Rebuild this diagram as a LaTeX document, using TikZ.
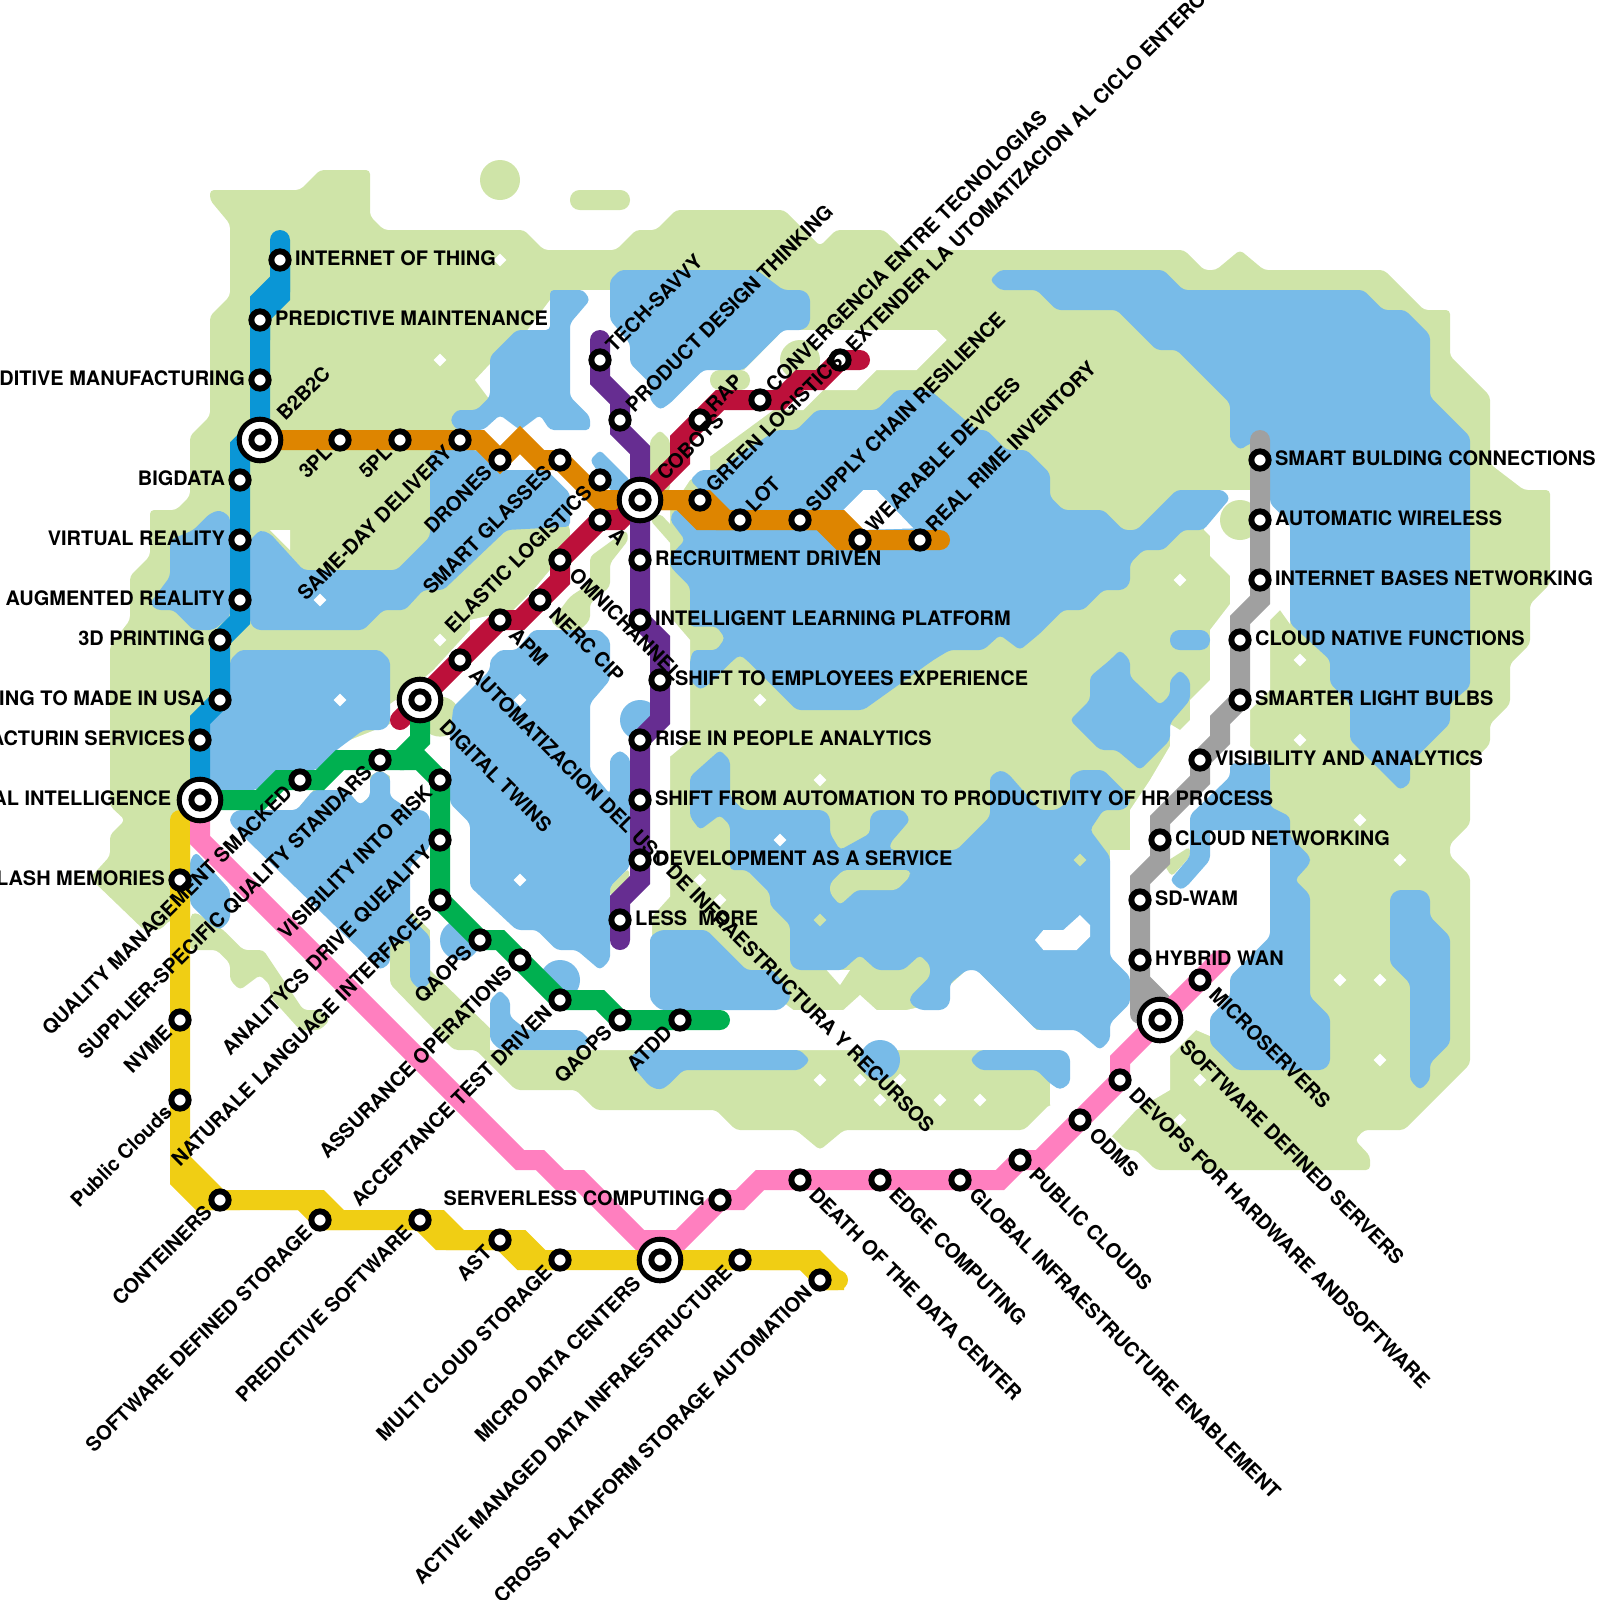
\documentclass[tikz,border=0pt]{standalone}
\usepackage{fontspec}
\setmainfont{TeX Gyre Heros}
\usetikzlibrary{positioning, backgrounds, shapes.geometric}

\definecolor{landgreen}{HTML}{CFE4A8}
\definecolor{lakeblue}{HTML}{78BBE8}
\definecolor{lineblue}{HTML}{0A96D6}
\definecolor{lineorange}{HTML}{DE8500}
\definecolor{linered}{HTML}{BC103A}
\definecolor{linepurple}{HTML}{662D91}
\definecolor{linegreen}{HTML}{00B050}
\definecolor{lineyellow}{HTML}{F0CE14}
\definecolor{linepink}{HTML}{FF7FBF}
\definecolor{linegrey}{HTML}{A0A0A0}

\begin{document}
\begin{tikzpicture}[
    x=.5cm, y=-.5cm,
    stop/.style={circle,draw=black,fill=white,line width=.148cm,minimum size=.432cm,inner sep=0pt},
    hub/.style={circle,draw=black,fill=white,line width=.125cm,minimum size=1.04cm,inner sep=0pt},
    lab/.style={font=\bfseries\fontsize{14.2}{16}\selectfont,inner sep=0pt,text height=10.2pt,text depth=0pt},
    rlab/.style={lab,yshift=.05cm},
    llab/.style={lab,yshift=.05cm},
    urlab/.style={lab,shift={(.225cm,.295cm)},rotate=45,anchor=west},
    dllab/.style={lab,shift={(-.29cm,-.22cm)},rotate=45,anchor=east},
    drlab/.style={lab,shift={(.32cm,-.27cm)},rotate=-45,anchor=west},
    urhub/.style={lab,shift={(.5cm,.58cm)},rotate=45,anchor=west},
    dlhub/.style={lab,shift={(-.57cm,-.5cm)},rotate=45,anchor=east},
    drhub/.style={lab,shift={(.58cm,-.58cm)},rotate=-45,anchor=west},
    land/.style={fill=landgreen,rounded corners=.1cm},
    lake/.style={fill=lakeblue,rounded corners=.1cm},
    gap/.style={fill=white},
    spot/.style={diamond,fill=white,minimum size=.32cm,inner sep=0pt},
    metro/.style={line width=.5cm,line cap=round,line join=miter,miter limit=4}
]
\useasboundingbox (0,0) rectangle (80,80);

% Blue line stops
\node[stop] (iot) at (14,13) {};
\node[stop] (pdm) at (13,16) {};
\node[stop] (addm) at (13,19) {};
\node[hub] (btb) at (13,22) {};
\node[stop] (btbc) at (13,22) {};
\node[stop] (bigd) at (12,24) {};
\node[stop] (vr) at (12,27) {};
\node[stop] (ar) at (12,30) {};
\node[stop] (tdp) at (11,32) {};
\node[stop] (usa) at (11,35) {};
\node[stop] (mfg) at (10,37) {};
\node[hub] (ai) at (10,40) {};
\node[stop] (aic) at (10,40) {};

% Yellow line stops
\node[stop] (flash) at (9,44) {};
\node[stop] (nvme) at (9,51) {};
\node[stop] (pubc) at (9,55) {};
\node[stop] (cont) at (11,60) {};
\node[stop] (sds) at (16,61) {};
\node[stop] (preds) at (21,61) {};
\node[stop] (ast) at (25,62) {};
\node[stop] (mcs) at (28,63) {};
\node[hub] (mdc) at (33,63) {};
\node[stop] (mdcc) at (33,63) {};
\node[stop] (amdi) at (37,63) {};
\node[stop] (cpsa) at (41,64) {};

% Pink line stops
\node[stop] (srvl) at (36,60) {};
\node[stop] (death) at (40,59) {};
\node[stop] (edge) at (44,59) {};
\node[stop] (ginf) at (48,59) {};
\node[stop] (pcl) at (51,58) {};
\node[stop] (odms) at (54,56) {};
\node[stop] (devh) at (56,54) {};
\node[hub] (sdsv) at (58,51) {};
\node[stop] (sdsvc) at (58,51) {};
\node[stop] (micro) at (60,49) {};

% Orange line stops
\node[stop] (tpl) at (17,22) {};
\node[stop] (fpl) at (20,22) {};
\node[stop] (same) at (23,22) {};
\node[stop] (dron) at (25,23) {};
\node[stop] (sgl) at (28,23) {};
\node[stop] (elog) at (30,24) {};
\node[hub] (cob) at (32,25) {};
\node[stop] (cobc) at (32,25) {};
\node[stop] (glog) at (35,25) {};
\node[stop] (lot) at (37,26) {};
\node[stop] (scr) at (40,26) {};
\node[stop] (wear) at (43,27) {};
\node[stop] (rri) at (46,27) {};

% Red line stops
\node[hub] (dt) at (21,35) {};
\node[stop] (dtc) at (21,35) {};
\node[stop] (auto) at (23,33) {};
\node[stop] (apm) at (25,31) {};
\node[stop] (nerc) at (27,30) {};
\node[stop] (omni) at (28,28) {};
\node[stop] (aa) at (30,26) {};
\node[stop] (rap) at (35,21) {};
\node[stop] (conv) at (38,20) {};
\node[stop] (ext) at (42,18) {};

% Purple line stops
\node[stop] (tech) at (30,18) {};
\node[stop] (pdt) at (31,21) {};
\node[stop] (recr) at (32,28) {};
\node[stop] (ilp) at (32,31) {};
\node[stop] (emp) at (33,34) {};
\node[stop] (rise) at (32,37) {};
\node[stop] (shft) at (32,40) {};
\node[stop] (daas) at (32,43) {};
\node[stop] (less) at (31,46) {};

% Green line stops
\node[stop] (qms) at (15,39) {};
\node[stop] (sqs) at (19,38) {};
\node[stop] (vir) at (22,39) {};
\node[stop] (adq) at (22,42) {};
\node[stop] (nli) at (22,45) {};
\node[stop] (qaa) at (24,47) {};
\node[stop] (aop) at (26,48) {};
\node[stop] (atd) at (28,50) {};
\node[stop] (qab) at (31,51) {};
\node[stop] (atdd) at (34,51) {};

% Grey line stops
\node[stop] (sbc) at (63,23) {};
\node[stop] (awl) at (63,26) {};
\node[stop] (ibn) at (63,29) {};
\node[stop] (cnf) at (62,32) {};
\node[stop] (slb) at (62,35) {};
\node[stop] (van) at (60,38) {};
\node[stop] (cnet) at (58,42) {};
\node[stop] (sdw) at (57,45) {};
\node[stop] (hyb) at (57,48) {};

% Labels, right of the stop
\node[rlab, right=.08cm of iot] (iotL) {INTERNET OF THING};
\node[rlab, right=.08cm of pdm] (pdmL) {PREDICTIVE MAINTENANCE};
\node[rlab, right=.08cm of recr] (recrL) {RECRUITMENT DRIVEN};
\node[rlab, right=.08cm of ilp] (ilpL) {INTELLIGENT LEARNING PLATFORM};
\node[rlab, right=.08cm of emp] (empL) {SHIFT TO EMPLOYEES EXPERIENCE};
\node[rlab, right=.08cm of rise] (riseL) {RISE IN PEOPLE ANALYTICS};
\node[rlab, right=.08cm of shft] (shftL) {SHIFT FROM AUTOMATION TO PRODUCTIVITY OF HR PROCESS};
\node[rlab, right=.08cm of daas] (daasL) {DEVELOPMENT AS A SERVICE};
\node[rlab, right=.08cm of less] (lessL) {LESS\ \ MORE};
\node[rlab, right=.08cm of sbc] (sbcL) {SMART BULDING CONNECTIONS};
\node[rlab, right=.08cm of awl] (awlL) {AUTOMATIC WIRELESS};
\node[rlab, right=.08cm of ibn] (ibnL) {INTERNET BASES NETWORKING};
\node[rlab, right=.08cm of cnf] (cnfL) {CLOUD NATIVE FUNCTIONS};
\node[rlab, right=.08cm of slb] (slbL) {SMARTER LIGHT BULBS};
\node[rlab, right=.08cm of van] (vanL) {VISIBILITY AND ANALYTICS};
\node[rlab, right=.08cm of cnet] (cnetL) {CLOUD NETWORKING};
\node[rlab, right=.08cm of sdw] (sdwL) {SD-WAM};
\node[rlab, right=.08cm of hyb] (hybL) {HYBRID WAN};

% Labels, left of the stop
\node[llab, left=.08cm of addm] (addmL) {DITIVE MANUFACTURING};
\node[llab, left=.08cm of bigd] (bigdL) {BIGDATA};
\node[llab, left=.08cm of vr] (vrL) {VIRTUAL REALITY};
\node[llab, left=.08cm of ar] (arL) {AUGMENTED REALITY};
\node[llab, left=.08cm of tdp] (tdpL) {3D PRINTING};
\node[llab, left=.08cm of usa] (usaL) {ING TO MADE IN USA};
\node[llab, left=.08cm of mfg] (mfgL) {ACTURIN SERVICES};
\node[llab, left=.13cm of ai] (aiL) {AL INTELLIGENCE};
\node[llab, left=.08cm of flash] (flashL) {LASH MEMORIES};
\node[llab, left=.08cm of srvl] (srvlL) {SERVERLESS COMPUTING};

% Labels going up to the right
\node[urhub] (btbL) at (btb) {B2B2C};
\node[urhub] (cobL) at (cob) {COBOTS};
\node[urlab] (techL) at (tech) {TECH-SAVVY};
\node[urlab] (pdtL) at (pdt) {PRODUCT DESIGN THINKING};
\node[urlab] (rapL) at (rap) {RAP};
\node[urlab] (convL) at (conv) {CONVERGENCIA ENTRE TECNOLOGIAS};
\node[urlab] (extL) at (ext) {EXTENDER LA UTOMATIZACION AL CICLO ENTERO};
\node[urlab] (glogL) at (glog) {GREEN LOGISTICS};
\node[urlab] (lotL) at (lot) {LOT};
\node[urlab] (scrL) at (scr) {SUPPLY CHAIN RESILIENCE};
\node[urlab] (wearL) at (wear) {WEARABLE DEVICES};
\node[urlab] (rriL) at (rri) {REAL RIME INVENTORY};

% Labels ending at the stop from below left
\node[dllab] (tplL) at (tpl) {3PL};
\node[dllab] (fplL) at (fpl) {5PL};
\node[dllab] (sameL) at (same) {SAME-DAY DELIVERY};
\node[dllab] (dronL) at (dron) {DRONES};
\node[dllab] (sglL) at (sgl) {SMART GLASSES};
\node[dllab] (elogL) at (elog) {ELASTIC LOGISTICS};
\node[dllab] (qmsL) at (qms) {QUALITY MANAGEMENT SMACKED};
\node[dllab] (sqsL) at (sqs) {SUPPLIER-SPECIFIC QUALITY STANDARS};
\node[dllab] (virL) at (vir) {VISIBILITY INTO RISK};
\node[dllab] (adqL) at (adq) {ANALITYCS DRIVE QUEALITY};
\node[dllab] (nliL) at (nli) {NATURALE LANGUAGE INTERFACES};
\node[dllab] (qaaL) at (qaa) {QAOPS};
\node[dllab] (aopL) at (aop) {ASSURANCE OPERATIONS};
\node[dllab] (atdL) at (atd) {ACCEPTANCE TEST DRIVEN};
\node[dllab] (qabL) at (qab) {QAOPS};
\node[dllab] (atddL) at (atdd) {ATDD};
\node[dllab] (nvmeL) at (nvme) {NVME};
\node[dllab] (pubcL) at (pubc) {Public Clouds};
\node[dllab] (contL) at (cont) {CONTEINERS};
\node[dllab] (sdsL) at (sds) {SOFTWARE DEFINED STORAGE};
\node[dllab] (predsL) at (preds) {PREDICTIVE SOFTWARE};
\node[dllab] (astL) at (ast) {AST};
\node[dllab] (mcsL) at (mcs) {MULTI CLOUD STORAGE};
\node[dlhub] (mdcL) at (mdc) {MICRO DATA CENTERS};
\node[dllab] (amdiL) at (amdi) {ACTIVE MANAGED DATA INFRAESTRUCTURE};
\node[dllab] (cpsaL) at (cpsa) {CROSS PLATAFORM STORAGE AUTOMATION};

% Labels going down to the right
\node[drlab] (aaL) at (aa) {A};
\node[drlab] (omniL) at (omni) {OMNICHANNEL};
\node[drlab] (nercL) at (nerc) {NERC CIP};
\node[drlab] (apmL) at (apm) {APM};
\node[drlab] (autoL) at (auto) {AUTOMATIZACION DEL USO DE INFRAESTRUCTURA Y RECURSOS};
\node[drhub] (dtL) at (dt) {DIGITAL TWINS};
\node[drlab] (microL) at (micro) {MICROSERVERS};
\node[drhub] (sdsvL) at (sdsv) {SOFTWARE DEFINED SERVERS};
\node[drlab] (devhL) at (devh) {DEVOPS FOR HARDWARE ANDSOFTWARE};
\node[drlab] (odmsL) at (odms) {ODMS};
\node[drlab] (pclL) at (pcl) {PUBLIC CLOUDS};
\node[drlab] (ginfL) at (ginf) {GLOBAL INFRAESTRUCTURE ENABLEMENT};
\node[drlab] (edgeL) at (edge) {EDGE COMPUTING};
\node[drlab] (deathL) at (death) {DEATH OF THE DATA CENTER};

\begin{scope}[on background layer]

% Land
\fill[land] (10.5,9.5) -- (15,9.5) -- (16,8.5) -- (18.5,8.5) -- (18.5,10.8) -- (19.2,11.5) -- (26.2,11.5) -- (27.2,12.5) -- (30.8,12.5) -- (31.8,11.5) -- (32.8,11.5) -- (33.8,10.5) -- (39.2,10.5) -- (41,12.3) -- (41.8,11.5) -- (44.2,11.5) -- (45.2,12.5) -- (59.2,12.5) -- (60.2,13.5) -- (60.8,13.5) -- (62,12.5) -- (63.2,13.5) -- (69.2,13.5) -- (71.2,15.5) -- (72.5,15.5) -- (72.5,17.8) -- (74.5,19.8) -- (74.5,23.2) -- (76.2,24.5) -- (77.5,24.5) -- (77.5,29.2) -- (76.5,30.2) -- (76.5,32.2) -- (75.5,33.2) -- (75.5,35.2) -- (74.5,36.2) -- (74.5,37.2) -- (73.5,38.2) -- (73.5,41.2) -- (72.5,42.2) -- (72.5,42.8) -- (73.5,43.8) -- (73.5,53.2) -- (70.2,56.5) -- (68.2,56.5) -- (67.75,57) -- (68.5,57.8) -- (68.5,58.5) -- (57.8,58.5) -- (56.8,57.5) -- (56.3,57.5) -- (55.6,56.8) -- (52.5,55.2) -- (51.2,56.5) -- (42.2,56.5) -- (41,57.5) -- (39.8,56.5) -- (36.8,56.5) -- (35.8,55.5) -- (29.8,55.5) -- (28.8,54.5) -- (25.8,54.5) -- (23.8,52.5) -- (22.7,52.5) -- (19.5,49.2) -- (19.5,47.2) -- (11.5,40.6) -- (10.5,40.8) -- (9.5,41) -- (9.5,46) -- (8.5,46) -- (8,46.5) -- (7.2,46.5) -- (4.5,43.9) -- (5.5,42.8) -- (5.5,41.75) -- (6.25,41) -- (5.5,40.3) -- (5.5,32.3) -- (6.5,31) -- (6.5,28.8) -- (7.5,27.8) -- (7.5,25.5) -- (8.8,25.5) -- (9.5,24.8) -- (9.5,21.8) -- (10.5,20.8) -- (10.5,15.8) -- (11.5,14.8) -- (11.5,11.2) -- (10.5,10) -- cycle;

% White channels through the land
\fill[gap] (60.7,24.5) -- (63.5,24.5) -- (64.5,25) -- (64.5,31.2) -- (64,30.5) -- (63.5,31) -- (63.5,34.5) -- (62.5,35.5) -- (62.5,37.3) -- (63.5,38.2) -- (63.5,49.7) -- (60.5,51.8) -- (59.8,51.5) -- (58.5,52.8) -- (58.5,54.5) -- (56.8,55.5) -- (55.6,56.8) -- (53.5,58) -- (52.5,55.2) -- (52.5,52.5) -- (52,51.5) -- (55.5,49) -- (55.5,42.5) -- (56.5,42.5) -- (56.5,40.5) -- (57.5,39) -- (58.5,37.3) -- (58.5,36.2) -- (59,36.5) -- (59.5,36) -- (59.5,35) -- (60.5,34) -- (60.5,31.5) -- (61.5,30.2) -- (61.5,28.8) -- (60.5,27.8) -- (60.5,26.8) -- (60.2,26.5) -- cycle;
\fill[gap] (24.5,52.5) -- (52.5,52.5) -- (53,51.5) -- (51.83,51.5) -- (48.83,48.5) -- (48.33,48.5) -- (47.5,49.25) -- (46.67,50.2) -- (45.33,50.5) -- (43.83,50.5) -- (43,49.75) -- (42.17,50.5) -- (39.67,50.5) -- (39,50) -- (32.6,49.7) -- (32.6,51) -- (24.5,51.4) -- cycle;
\fill[gap] (28,14.5) -- (30.5,14.5) -- (33,18) -- (37.2,18.5) -- (39.17,16.5) -- (46.83,16.5) -- (47.33,17) -- (45.83,18.5) -- (43.83,18.5) -- (42.83,19.5) -- (41.17,19.5) -- (40.17,20.5) -- (38.67,20.5) -- (35.5,22.83) -- (35.5,23.5) -- (34.5,24) -- (33.5,25.5) -- (33.5,30.83) -- (34.5,32) -- (34.5,37) -- (33.5,37.83) -- (33.5,44.83) -- (32.6,45.83) -- (32.6,51.5) -- (24.5,51.4) -- (21.5,48.5) -- (21.5,46.5) -- (20.5,45.5) -- (20.5,41) -- (19.5,39.8) -- (19.5,38.8) -- (19,38.5) -- (18.5,38.8) -- (18.5,39.8) -- (18,40.25) -- (17.33,39.5) -- (15.67,39.5) -- (14.83,40.5) -- (11.5,40.8) -- (10.5,41) -- (10.5,40) -- (15,38) -- (19.5,36.2) -- (19.5,35.2) -- (20.5,34.5) -- (21.67,33.5) -- (23.5,31.5) -- (23.5,31) -- (25.67,30.5) -- (26.67,29.5) -- (27.5,28.5) -- (28.5,27.33) -- (28.5,26.5) -- (28,25) -- (27.3,23.8) -- (25,23.8) -- (24.3,22.5) -- (24,21.5) -- (24.5,20) -- (23.75,19) -- (24.5,18.2) -- (26,17) -- (27.5,15) -- cycle;
\fill[gap] (13.5,26.5) -- (14.5,26.5) -- (14.5,27.5) -- cycle;
\fill[gap] (41.33,48.5) -- (42.5,48.5) -- (42,49.25) -- cycle;
\fill[gap] (37.33,43.5) -- (38.5,43.5) -- (38.5,44.67) -- cycle;

% Small pieces of land
\fill[land] (9.5,47.5) -- (10.83,47.5) -- (11.5,48.17) -- (11.5,49) -- (12,49.5) -- (13,48.75) -- (13.5,49.25) -- (13.5,49.83) -- (15,51.5) -- (16,51.5) -- (16.5,51) -- (16,50.5) -- (15.17,50.5) -- (13.17,47.5) -- (12.17,47.5) -- (11.17,46.5) -- (9.75,45.6) -- (9.5,45.8) -- cycle;
\fill[land] (28,30.5) -- (27.5,31) -- (28,31.5) -- (29,31.5) -- (29.5,31) -- (29.5,30.17) -- (30.5,29.33) -- (30.5,28.17) -- (31.42,27) -- (31.33,26.5) -- (29.5,27.83) -- (29.5,29.17) -- (28.5,29.83) -- cycle;
\fill[land] (32.5,22) -- (33,21.5) -- (33.5,22) -- (33.5,24.5) -- (32.5,25.5) -- cycle;
\fill[land] (33,25.67) -- (34.25,27) -- (33.75,27.42) -- (32.5,26) -- cycle;
\fill[land] (58.17,43.17) -- (58.58,43.83) -- (59.5,42.83) -- (59.5,42.33) -- cycle;
\fill[land] (30.5,44.33) -- (31.42,43.42) -- (31.5,43.83) -- (30.5,44.83) -- cycle;
\fill[land,rounded corners=.24cm] (28.5,9.5) rectangle (31.5,10.5);
\fill[land,rounded corners=.24cm] (35.5,18.5) rectangle (37.5,19.5);
\fill[landgreen] (25,9) circle[radius=.5cm];
\fill[landgreen] (40,18) circle[radius=.5cm];
\fill[landgreen] (62,26) circle[radius=.5cm];
\fill[landgreen] (22,35.83) circle[radius=.5cm];

% Lakes
\fill[lake] (22.5,21) -- (22.83,20.5) -- (23.83,20.5) -- (24.5,19.83) -- (24.5,17.83) -- (25.83,16.5) -- (27.5,16.5) -- (27.5,14.5) -- (29.17,14.5) -- (29.5,15) -- (28.5,16.17) -- (28.5,19.83) -- (29.5,20.83) -- (29.5,21.5) -- (27.5,21.5) -- (27,20.75) -- (26,21.5) -- (25,20.75) -- (24.17,21.5) -- (22.83,21.5) -- cycle;
\fill[lake] (12.5,27) -- (13,26.5) -- (13.5,26.67) -- (15.17,28.5) -- (19.83,28.5) -- (21.5,26.83) -- (21.5,22.5) -- (23.83,22.5) -- (24.83,23.5) -- (27.33,23.5) -- (28.5,24.67) -- (28.5,26.33) -- (25.33,26.5) -- (22.17,29.5) -- (21.17,29.5) -- (20.25,30.5) -- (19.17,30.5) -- (18.17,31.5) -- (12.83,31.5) -- (12.5,31.17) -- cycle;
\fill[lake] (10.5,25.67) -- (11,25.5) -- (11.5,25.83) -- (11.5,30.83) -- (10.67,31.5) -- (9.67,31.5) -- (8.67,30.5) -- (7.83,30.5) -- (7.5,30.17) -- (8.5,28.83) -- (8.5,27) -- (9.67,26.5) -- cycle;
\fill[lake] (11.5,33) -- (12,32.5) -- (19,32.5) -- (19.5,33) -- (19.5,36.17) -- (19.17,36.5) -- (18.17,36.5) -- (16.83,37.5) -- (15.83,38.5) -- (13.83,38.5) -- (12.83,39.5) -- (10.5,39.5) -- (10.5,35.83) -- (11.5,35) -- cycle;
\fill[lake] (11.5,40.83) -- (11.83,40.5) -- (14.83,40.5) -- (15.67,39.5) -- (17.33,39.5) -- (18,40.25) -- (18.5,39.83) -- (18.5,38.83) -- (19,38.5) -- (19.5,38.83) -- (19.5,39.83) -- (20.5,40.5) -- (21.17,40.5) -- (21.5,40.83) -- (21.5,42.33) -- (20.5,43.33) -- (20.5,45.83) -- (21.5,46.83) -- (21.5,49.17) -- (21,49.5) -- (20.5,49) -- (20.5,47) -- (19.5,47.17) -- (19.5,48.17) -- (19,48.5) -- (18.17,47.67) -- (11.5,41.17) -- cycle;
\fill[lake] (9.5,43) -- (9.8,42.6) -- (11.5,44.5) -- (11.5,46) -- (11,46.5) -- (10.5,46.2) -- (9.5,45.2) -- cycle;
\fill[lake] (34.5,24) -- (35,23.5) -- (35.83,23.5) -- (38.83,21.5) -- (39.83,21.5) -- (40.83,20.5) -- (43.83,20.5) -- (44.83,19.5) -- (46.5,19.5) -- (48.83,21.5) -- (49.33,21.5) -- (50.33,22.5) -- (51.33,22.5) -- (52.5,23.67) -- (52.5,24.83) -- (53.17,25.5) -- (55.17,25.5) -- (56.17,26.5) -- (56.83,26.5) -- (58.83,24.5) -- (61.17,24.5) -- (61.5,24.92) -- (60.17,26.5) -- (59.17,26.5) -- (58.17,27.5) -- (57.17,27.5) -- (56.5,28.17) -- (56.5,29.17) -- (56.17,29.5) -- (55.17,29.5) -- (54.17,30.5) -- (53.17,30.5) -- (52,31.67) -- (51,32.5) -- (50,31.75) -- (49.17,32.5) -- (47.5,32.5) -- (46.67,33) -- (43.17,35.5) -- (39.83,35.5) -- (37.33,33) -- (37,32.75) -- (36.67,33) -- (35.5,34.17) -- (35,34.5) -- (34.5,34) -- (34.5,33) -- (34.67,32.5) -- (35.83,32.5) -- (36.25,31.9) -- (35.83,31.33) -- (34.5,31.33) -- (34.5,29.33) -- (33.75,28.58) -- (33.5,28.3) -- (33.5,27.8) -- (34.25,27) -- (33.5,26) -- (33.7,25.5) -- (35,25.5) -- (35,24.5) -- cycle;
\fill[lake] (49.5,14) -- (50,13.5) -- (58.17,13.5) -- (59.17,14.5) -- (68.17,14.5) -- (69.17,15.5) -- (70.25,15.5) -- (71.5,16.75) -- (71.5,19.83) -- (73.5,21.83) -- (73.5,34.33) -- (72.5,35.17) -- (72.5,36.17) -- (70.5,38.17) -- (70.5,39.17) -- (70,39.5) -- (69.33,38.83) -- (67.5,37) -- (67.5,35.17) -- (66.5,34.17) -- (66.5,33) -- (64.5,31.17) -- (64.5,26.17) -- (63.5,25.17) -- (63.5,22) -- (62.5,22.17) -- (62,22.5) -- (61.5,22) -- (61.5,20.17) -- (58.83,17.5) -- (57.83,17.5) -- (55.83,15.5) -- (52.83,15.5) -- (51.83,14.5) -- (50,14.5) -- cycle;
\fill[lake] (30.5,14) -- (31,13.5) -- (37.83,13.5) -- (39.17,14.5) -- (40.17,14.5) -- (40.5,14.83) -- (40.5,16.17) -- (40.17,16.5) -- (39.17,16.5) -- (37.17,18.5) -- (35.17,18.5) -- (33.5,20.17) -- (33,20.5) -- (32.5,20) -- (32.5,19.17) -- (31.5,18.17) -- (31.5,17.17) -- (30.5,16) -- cycle;
\fill[lake] (29.5,23) -- (30,22.5) -- (31.5,24) -- (31.5,25) -- (30.5,24.5) -- cycle;
\fill[lake] (24.5,33) -- (25,32.5) -- (25.83,32.5) -- (26.67,31.5) -- (30,31.5) -- (30.5,32) -- (30.5,34) -- (29.5,35.17) -- (29.5,38.5) -- (30.5,39.7) -- (30.5,37.9) -- (31,37.5) -- (31.5,37.9) -- (31.5,43.33) -- (30.5,44.33) -- (30.5,48) -- (30,48.5) -- (28.83,47.5) -- (27.83,47.5) -- (26.83,46.5) -- (25.83,46.5) -- (23.5,44.33) -- (23.5,41.17) -- (22.5,40.17) -- (22.5,36.83) -- (22.67,35.33) -- (24.5,33.5) -- cycle;
\fill[lakeblue] (32,36) circle[radius=.5cm];
\fill[lake] (34.5,38.83) -- (36,37.5) -- (36.5,38) -- (36.5,39.83) -- (37.17,40.5) -- (41.17,40.5) -- (41.5,40.83) -- (41.5,41.67) -- (42,42.5) -- (43.5,41.67) -- (43.5,40.83) -- (43.83,40.5) -- (45.17,40.5) -- (45.5,41) -- (44.5,42.17) -- (44.5,42.5) -- (47.83,42.5) -- (49.5,40.83) -- (49.5,38.83) -- (50,38.5) -- (50.4,38.67) -- (52,40.5) -- (52.83,40.5) -- (53.5,40) -- (53.5,38.83) -- (54,38.5) -- (55.17,38.5) -- (56.5,39.83) -- (56.5,40.17) -- (56.17,40.5) -- (55.17,40.5) -- (54.5,41.5) -- (55.5,42.83) -- (55.5,47.83) -- (56.5,48.83) -- (56.5,50.17) -- (55.5,51.17) -- (55.5,52) -- (55,52.5) -- (53.83,51.5) -- (51.83,51.5) -- (48.83,48.5) -- (48.33,48.5) -- (47.5,49.17) -- (47.5,50.17) -- (47.17,50.5) -- (46,50.5) -- (45.5,50.17) -- (45.5,49.83) -- (46.5,48.83) -- (46.5,48.25) -- (46,47.75) -- (45.17,48.5) -- (43.83,48.5) -- (43,47.75) -- (42.5,48.17) -- (42.17,48.5) -- (39.83,48.5) -- (39.5,48.17) -- (39.5,46.25) -- (38.5,45.25) -- (38.5,44.67) -- (37.33,43.5) -- (36.5,43.5) -- (36.5,41.25) -- (36,40.75) -- (35,41.5) -- (34.5,40.83) -- cycle;
\fill[lake] (32.5,46.83) -- (33,46.5) -- (35.33,46.5) -- (37.33,48.5) -- (38.67,48.5) -- (39.5,49.67) -- (39.5,50) -- (39,50.5) -- (33,50.5) -- (32.5,50) -- cycle;
\fill[lake] (31.5,52.83) -- (32,52.5) -- (40,52.5) -- (40.5,53) -- (40,53.5) -- (34.17,53.5) -- (33.33,54.33) -- (33,54.5) -- (32.5,54.33) -- (31.5,53.17) -- cycle;
\fill[lake] (48.5,53) -- (49,52.5) -- (53.17,52.5) -- (53.5,52.83) -- (53.5,54.17) -- (53,54.5) -- (52.5,54.17) -- (51.83,53.5) -- (49,53.5) -- cycle;
\fill[lakeblue] (44,53) circle[radius=.5cm];
\fill[lakeblue] (23,47) circle[radius=.5cm];
\fill[lakeblue] (28,49) circle[radius=.5cm];
\fill[lake] (24.5,50) -- (25,49.5) -- (25.5,50) -- (25.5,50.83) -- (26.33,51.5) -- (29,51.5) -- (29.5,52) -- (29,52.5) -- (25,52.5) -- (24.5,52) -- cycle;
\fill[lake,rounded corners=.24cm] (58.5,31.5) rectangle (60.5,32.5);
\fill[lake] (53.5,36) -- (54.5,35) -- (54.5,33.83) -- (55.5,33) -- (56,32.5) -- (56.5,33) -- (56.5,33.83) -- (58,35.25) -- (58.5,34.75) -- (58.5,34) -- (59,33.5) -- (59.5,34) -- (59.5,35) -- (58.5,36.17) -- (58.5,37) -- (57,38.5) -- (55.83,37.5) -- (55,37.5) -- cycle;
\fill[lake] (61.5,38.83) -- (61.5,38.17) -- (63.5,38.17) -- (63.5,40.33) -- (64.5,40.83) -- (64.5,41.83) -- (65.5,42.83) -- (65.5,43.17) -- (64.75,44) -- (65.5,44.75) -- (65.5,49.83) -- (66.5,50.83) -- (66.5,53.17) -- (66.17,53.5) -- (61.83,53.5) -- (60.5,52.17) -- (60.5,50.83) -- (61.5,49.83) -- (61.5,48.83) -- (63.5,46.83) -- (63.5,41.5) -- (60.5,41.5) -- (60.5,43) -- (59.33,44.33) -- (59,44.5) -- (58.5,44) -- (59.5,42.83) -- (59.5,40.75) -- cycle;
\fill[lake] (69.5,44.83) -- (69.83,44.5) -- (71.17,44.5) -- (71.5,44.83) -- (71.5,45.83) -- (72.5,46.83) -- (72.5,52.17) -- (71.5,53.17) -- (71.5,54) -- (71,54.5) -- (70.5,54) -- (70.5,49.17) -- (69.5,48.17) -- cycle;

% Holes and islands in the lakes
\fill[gap] (51.75,47) -- (52.17,46.5) -- (53.17,46.5) -- (54,45.75) -- (54.5,46.25) -- (54.5,46.83) -- (53.83,47.5) -- (52.17,47.5) -- cycle;
\fill[gap] (42.17,25.5) -- (43.17,24.5) -- (43.83,24.5) -- (45.67,26.42) -- (43,26.5) -- cycle;
\fill[land] (42.17,43.5) -- (45.5,43.5) -- (45.5,43.83) -- (44.83,44.5) -- (42.83,44.5) -- (42,45.25) -- (41.5,44.67) -- (41.5,44.17) -- cycle;
\node[spot,fill=landgreen] (g1) at (41,46) {};
\node[spot,fill=landgreen] (g2) at (54,43) {};

% Small white marks
\node[spot] (s1) at (25,13) {};
\node[spot] (s2) at (22,18) {};
\node[spot] (s3) at (16,30) {};
\node[spot] (s4) at (22,32) {};
\node[spot] (s5) at (17,35) {};
\node[spot] (s6) at (26,35) {};
\node[spot] (s7) at (26,44) {};
\node[spot] (s8) at (38,35) {};
\node[spot] (s9) at (41,39) {};
\node[spot] (s10) at (39,42) {};
\node[spot] (s11) at (35,44) {};
\node[spot] (s12) at (36,45) {};
\node[spot] (s13) at (41,54) {};
\node[spot] (s14) at (43,54) {};
\node[spot] (s15) at (45,54) {};
\node[spot] (s16) at (44,55) {};
\node[spot] (s17) at (47,55) {};
\node[spot] (s18) at (49,55) {};
\node[spot] (s19) at (59,29) {};
\node[spot] (s20) at (65,33) {};
\node[spot] (s21) at (65,37) {};
\node[spot] (s22) at (68,41) {};
\node[spot] (s23) at (70,43) {};
\node[spot] (s24) at (67,49) {};
\node[spot] (s25) at (69,49) {};
\node[spot] (s26) at (69,53) {};
\node[spot] (s27) at (60,54) {};
\node[spot] (s28) at (59,56) {};

% Bends of the lines
\coordinate (be) at (14,12);
\coordinate (b1) at (14,14.4);
\coordinate (b2) at (13,15.4);
\coordinate (b3) at (13,21.33);
\coordinate (b4) at (12,22.33);
\coordinate (b5) at (12,31);
\coordinate (b6) at (10,36);

\coordinate (o1) at (24,22);
\coordinate (o2) at (26,22);
\coordinate (o3) at (27,23);
\coordinate (o4) at (30,25);
\coordinate (o5) at (36,26);
\coordinate (o6) at (42,26);
\coordinate (oe) at (47,27);

\coordinate (re) at (20,36);
\coordinate (r1) at (26,31);
\coordinate (r2) at (28,29);
\coordinate (r3) at (31,26);
\coordinate (r4) at (34,23);
\coordinate (r5) at (34,22);
\coordinate (r6) at (36,20);
\coordinate (r7) at (39,20);
\coordinate (r8) at (40,19);
\coordinate (r9) at (41,19);
\coordinate (rf) at (43,18);

\coordinate (pe) at (30,17);
\coordinate (p1) at (30,19);
\coordinate (p2) at (31,20);
\coordinate (p3) at (31,21.5);
\coordinate (p4) at (32,22.5);
\coordinate (p5) at (33,32);
\coordinate (p6) at (33,36);
\coordinate (p7) at (32,44);
\coordinate (p8) at (31,45);
\coordinate (pf) at (31,47);

\coordinate (g3) at (13,40);
\coordinate (g4) at (14,39);
\coordinate (g5) at (16,39);
\coordinate (g6) at (17,38);
\coordinate (g7) at (20,38);
\coordinate (g8) at (21,37);
\coordinate (g9) at (21,38);
\coordinate (g10) at (25,47);
\coordinate (g11) at (30,50);
\coordinate (ge) at (36,51);

\coordinate (ye) at (9,41);
\coordinate (y1) at (9,58.5);
\coordinate (y2) at (10.5,60);
\coordinate (y3) at (15.6,60);
\coordinate (y4) at (16.6,61);
\coordinate (y5) at (21.5,61);
\coordinate (y6) at (22.5,62);
\coordinate (y7) at (25.6,62);
\coordinate (y8) at (26.6,63);
\coordinate (y9) at (40.5,63);
\coordinate (y10) at (41.5,64);
\coordinate (yf) at (41.9,64);

\coordinate (k1) at (10,42);
\coordinate (k2) at (26,58);
\coordinate (k3) at (27,58);
\coordinate (k4) at (28,59);
\coordinate (k5) at (29,59);
\coordinate (k6) at (32,62);
\coordinate (k7) at (34,62);
\coordinate (k8) at (37,60);
\coordinate (k9) at (38,59);
\coordinate (k10) at (50,59);
\coordinate (k11) at (52,58);
\coordinate (k12) at (56,53);
\coordinate (ke) at (61,48);

\coordinate (w0) at (63,22);
\coordinate (w1) at (63,30);
\coordinate (w2) at (62,31);
\coordinate (w3) at (61,36);
\coordinate (w4) at (61,37);
\coordinate (w5) at (60,39);
\coordinate (w6) at (58,41);
\coordinate (w7) at (58,43);
\coordinate (w8) at (57,44);
\coordinate (w9) at (57,50.7);

% Lines
\draw[metro,lineblue] (be) -- (iot.center) -- (b1) -- (b2) -- (pdm.center) -- (addm.center) -- (btb.center);
\draw[metro,lineblue] (b3) -- (b4) -- (bigd.center) -- (vr.center) -- (ar.center) -- (b5) -- (tdp.center) -- (usa.center) -- (b6) -- (mfg.center) -- (ai.center);
\fill[lineblue] (13.5,13) -- (14.5,13) -- (14.5,15) -- (13.5,16) -- (13.5,17) -- (12.5,17) -- (12.5,14.83) -- (13.5,13.83) -- cycle;

\draw[metro,lineorange] (btb.center) -- (tpl.center) -- (fpl.center) -- (same.center) -- (o1) -- (dron.center) -- (o2) -- (o3) -- (sgl.center) -- (o4) -- (cob.center) -- (glog.center) -- (o5) -- (lot.center) -- (scr.center) -- (o6) -- (wear.center) -- (rri.center) -- (oe);
\fill[lineorange] (33,24.5) -- (35.5,24.5) -- (36.5,25.5) -- (37,25.5) -- (37,26.5) -- (34.83,26.5) -- (33.83,25.5) -- (33,25.5) -- cycle;
\fill[lineorange] (40,25.5) -- (42.17,25.5) -- (43.17,26.5) -- (44,26.5) -- (44,27.5) -- (41.83,27.5) -- (40.83,26.5) -- (40,26.5) -- cycle;

\draw[metro,linered] (re) -- (dt.center) -- (auto.center) -- (apm.center) -- (r1) -- (nerc.center) -- (r2) -- (omni.center) -- (aa.center) -- (r3) -- (cob.center) -- (r4) -- (r5) -- (rap.center) -- (r6) -- (conv.center) -- (r7) -- (r8) -- (r9) -- (ext.center) -- (rf);

\draw[metro,linepurple] (pe) -- (tech.center) -- (p1) -- (p2) -- (pdt.center) -- (p3) -- (p4) -- (cob.center) -- (recr.center) -- (ilp.center) -- (p5) -- (emp.center) -- (p6) -- (rise.center) -- (shft.center) -- (daas.center) -- (p7) -- (p8) -- (less.center) -- (pf);

\draw[metro,linegreen] (ai.center) -- (g3) -- (g4) -- (qms.center) -- (g5) -- (g6) -- (sqs.center) -- (g7) -- (g8) -- (dt.center);
\draw[metro,linegreen] (g7) -- (g9) -- (vir.center) -- (adq.center) -- (nli.center) -- (qaa.center) -- (g10) -- (aop.center) -- (atd.center) -- (g11) -- (qab.center) -- (atdd.center) -- (ge);

\draw[metro,lineyellow] (ye) -- (flash.center) -- (nvme.center) -- (pubc.center) -- (y1) -- (y2) -- (cont.center) -- (y3) -- (y4) -- (sds.center) -- (preds.center) -- (y5) -- (y6) -- (ast.center) -- (y7) -- (y8) -- (mcs.center) -- (mdc.center) -- (amdi.center) -- (y9) -- (y10) -- (yf);
\fill[lineyellow] (8.5,57) -- (9.5,57) -- (9.5,57.8) -- (11.2,59.5) -- (12,59.5) -- (12,60.5) -- (9.8,60.5) -- (8.5,59.2) -- cycle;
\fill[lineyellow] (14,59.5) -- (16.2,59.5) -- (17.2,60.5) -- (18,60.5) -- (18,61.5) -- (15.9,61.5) -- (14.9,60.5) -- (14,60.5) -- cycle;
\fill[lineyellow] (20,60.5) -- (22.2,60.5) -- (23.2,61.5) -- (24,61.5) -- (24,62.5) -- (21.8,62.5) -- (20.8,61.5) -- (20,61.5) -- cycle;
\fill[lineyellow] (24,61.5) -- (26.27,61.5) -- (27.27,62.5) -- (28,62.5) -- (28,63.5) -- (25.87,63.5) -- (24.87,62.5) -- (24,62.5) -- cycle;
\fill[lineyellow] (38,62.5) -- (41,62.5) -- (42.2,63.7) -- (42.2,64.5) -- (41,64.5) -- (40,63.5) -- (38,63.5) -- cycle;

\draw[metro,linegrey] (w0) -- (sbc.center) -- (awl.center) -- (ibn.center) -- (w1) -- (w2) -- (cnf.center) -- (slb.center) -- (w3) -- (w4) -- (van.center) -- (w5) -- (w6) -- (cnet.center) -- (w7) -- (w8) -- (sdw.center) -- (hyb.center) -- (w9);
\fill[linegrey] (56.5,48.8) -- (57.5,48.83) -- (58.5,49.83) -- (58.5,51) -- (57,51.2) -- (56.5,50.5) -- cycle;

\draw[metro,linepink] (ai.center) -- (k1) -- (k2) -- (k3) -- (k4) -- (k5) -- (k6) -- (k7) -- (srvl.center) -- (k8) -- (k9) -- (death.center) -- (edge.center) -- (ginf.center) -- (k10) -- (pcl.center) -- (k11) -- (odms.center) -- (devh.center) -- (k12) -- (sdsv.center) -- (micro.center) -- (ke);

\end{scope}

\end{tikzpicture}
\end{document}
